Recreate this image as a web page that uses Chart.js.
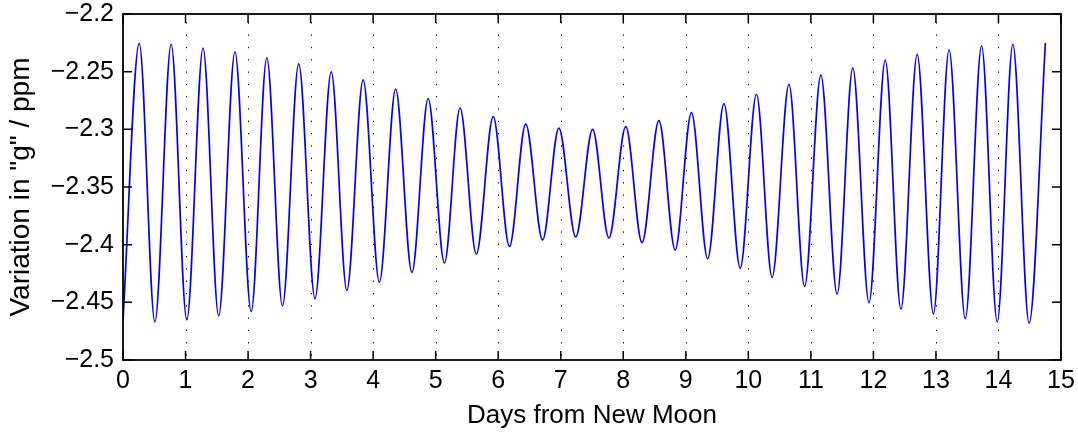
<!DOCTYPE html>
<html>
<head>
<meta charset="utf-8">
<script src="https://cdn.jsdelivr.net/npm/chart.js@4"></script>
<style>
  html, body { margin: 0; padding: 0; background: #fff; }
  #wrap { width: 1078px; height: 432px; position: relative; }
</style>
</head>
<body>
<div id="wrap"><canvas id="c"></canvas></div>
<script>
// Extremes of the curve (day, value)
const days = [0.00, 0.26, 0.51, 0.77, 1.02, 1.28, 1.53, 1.79, 2.05, 2.30, 2.55, 2.81, 3.07, 3.33, 3.58, 3.84,
  4.10, 4.36, 4.62, 4.88, 5.14, 5.39, 5.65, 5.92, 6.18, 6.44, 6.71, 6.97, 7.24, 7.51, 7.77, 8.04,
  8.30, 8.57, 8.83, 9.09, 9.35, 9.61, 9.87, 10.13, 10.38, 10.65, 10.90, 11.16, 11.42, 11.67, 11.93,
  12.19, 12.44, 12.70, 12.96, 13.21, 13.47, 13.73, 13.98, 14.23, 14.49, 14.75];
const gValues = [-2.466, -2.2255, -2.467, -2.2263, -2.4652, -2.2296, -2.4617, -2.2328, -2.458, -2.238,
  -2.453, -2.2432, -2.4467, -2.2502, -2.4397, -2.2571, -2.4325, -2.2652, -2.4241, -2.2733, -2.4159,
  -2.2815, -2.4081, -2.289, -2.4015, -2.2954, -2.3959, -2.2989, -2.3933, -2.3000, -2.3942, -2.2977,
  -2.3983, -2.2925, -2.4046, -2.2855, -2.4122, -2.2777, -2.4203, -2.2696, -2.4284, -2.2611, -2.4362,
  -2.253, -2.4429, -2.2467, -2.4502, -2.2400, -2.4559, -2.2350, -2.4600, -2.2310, -2.4641, -2.2276,
  -2.4670, -2.2264, -2.4681, -2.2252];
const xTickValues = [0,1,2,3,4,5,6,7,8,9,10,11,12,13,14,15];
const yTickValues = [-2.5, -2.45, -2.4, -2.35, -2.3, -2.25, -2.2];
const gridDays = [1,2,3,4,5,6,7,8,9,10,11,12,13,14];
const xTitle = 'Days from New Moon';
const yTitle = 'Variation in "g" / ppm';

const FONT = '"Liberation Sans", Arial, Helvetica, sans-serif';
const points = days.map((d, i) => ({x: d, y: gValues[i]}));

const framePlugin = {
  id: 'frame',
  beforeDatasetsDraw(chart) {
    const {ctx, chartArea: a, scales: {x}} = chart;
    ctx.save();
    ctx.strokeStyle = '#000';
    ctx.lineWidth = 1;
    ctx.setLineDash([1.3, 11]);
    ctx.lineDashOffset = 4;
    gridDays.forEach(d => {
      const px = Math.round(x.getPixelForValue(d)) + 0.5;
      ctx.beginPath();
      ctx.moveTo(px, a.top);
      ctx.lineTo(px, a.bottom);
      ctx.stroke();
    });
    ctx.restore();
  },
  afterDraw(chart) {
    const {ctx, chartArea: a, scales: {x, y}} = chart;
    const tl = 9;
    ctx.save();
    ctx.strokeStyle = '#000';
    ctx.lineWidth = 1.5;
    ctx.beginPath();
    xTickValues.forEach(v => {
      const px = x.getPixelForValue(v);
      ctx.moveTo(px, a.bottom); ctx.lineTo(px, a.bottom - tl);
      ctx.moveTo(px, a.top); ctx.lineTo(px, a.top + tl);
    });
    yTickValues.forEach(v => {
      const py = y.getPixelForValue(v);
      ctx.moveTo(a.left, py); ctx.lineTo(a.left + tl, py);
      ctx.moveTo(a.right, py); ctx.lineTo(a.right - tl, py);
    });
    ctx.stroke();
    ctx.lineWidth = 1.8;
    ctx.strokeRect(a.left, a.top, a.right - a.left, a.bottom - a.top);
    ctx.restore();
  }
};

new Chart(document.getElementById('c'), {
  type: 'line',
  data: {
    datasets: [{
      data: points,
      borderColor: 'rgb(0,0,255)',
      borderWidth: 1.7,
      pointRadius: 0,
      fill: false,
      cubicInterpolationMode: 'monotone'
    }]
  },
  options: {
    responsive: true,
    maintainAspectRatio: false,
    animation: false,
    events: [],
    layout: { padding: { top: 14, right: 17, left: 0, bottom: 0 } },
    plugins: { legend: { display: false }, tooltip: { enabled: false } },
    scales: {
      x: {
        type: 'linear',
        min: 0, max: 15,
        afterFit(scale) { scale.height = 72; scale.paddingLeft = 0; scale.paddingRight = 0; },
        afterBuildTicks(scale) { scale.ticks = xTickValues.map(v => ({value: v})); },
        grid: { display: false, drawTicks: false },
        border: { display: false },
        ticks: {
          color: '#000', padding: 9, maxRotation: 0, autoSkip: false,
          font: { family: FONT, size: 25, lineHeight: 1 },
          callback: v => String(v)
        },
        title: {
          display: true, text: xTitle, color: '#000',
          font: { family: FONT, size: 26, lineHeight: 1.2 },
          padding: { top: 0, bottom: 1 }
        }
      },
      y: {
        type: 'linear',
        min: -2.5, max: -2.2,
        afterFit(scale) { scale.width = 123; scale.paddingTop = 0; scale.paddingBottom = 0; },
        afterBuildTicks(scale) { scale.ticks = yTickValues.map(v => ({value: v})); },
        grid: { display: false, drawTicks: false },
        border: { display: false },
        ticks: {
          color: '#000', padding: 9, autoSkip: false,
          font: { family: FONT, size: 25, lineHeight: 1 },
          callback: v => String(Number(v.toFixed(2))).replace('-', '\u2212')
        },
        title: {
          display: true, text: yTitle, color: '#000',
          font: { family: FONT, size: 28, lineHeight: 1.2 },
          padding: { top: 4, bottom: 0 }
        }
      }
    }
  },
  plugins: [framePlugin]
});
</script>
</body>
</html>
